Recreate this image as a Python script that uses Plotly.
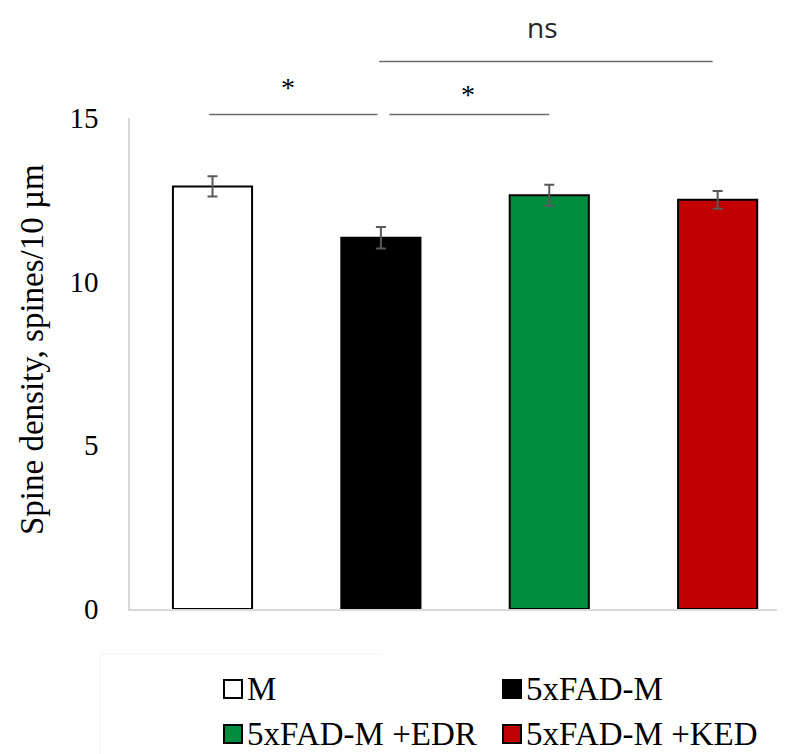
import plotly.graph_objects as go

# ---------------- data ----------------
categories = ["M", "5xFAD-M", "5xFAD-M +EDR", "5xFAD-M +KED"]
means = [12.91, 11.34, 12.64, 12.50]
sems = [0.31, 0.33, 0.32, 0.27]
colors = ["#FFFFFF", "#000000", "#008C3E", "#C00000"]
y_ticks = [0, 5, 10, 15]
sig_labels = ["*", "*", "ns"]
sig_from = [-0.02, 1.05, 0.99]
sig_to = [0.98, 2.00, 2.97]
sig_label_x = [0.45, 1.52, 1.96]

# ---------------- layout geometry ----------------
# the page body has an 8px margin, so the figure is drawn 8px smaller and
# all positions below are given in window pixels, then shifted by BODY.
BODY = 8
WIN_W, WIN_H = 785, 754
W, H = WIN_W - BODY, WIN_H - BODY
PLOT_L, PLOT_T, PLOT_B, PLOT_R = 130, 118, 609, 785   # window pixels
ML = PLOT_L - BODY
MT = PLOT_T - BODY
MB = H - (PLOT_B - BODY)
MR = W - (PLOT_R - BODY)
PW, PH = W - ML - MR, H - MT - MB
X_RANGE = [-0.49, 3.40]
Y_RANGE = [0, 15]


def data_x_to_paper(x):
    return (x - X_RANGE[0]) / (X_RANGE[1] - X_RANGE[0])


def px_x(p):
    return (p - PLOT_L) / PW


def px_y(p):
    return (PLOT_B - p) / PH


SERIF = "Liberation Serif, Times New Roman, serif"

fig = go.Figure()
fig.add_trace(go.Bar(
    x=categories,
    y=means,
    width=0.47,
    marker=dict(color=colors, line=dict(color="#000000", width=2)),
    error_y=dict(type="data", array=sems, visible=True,
                 color="#595959", thickness=2, width=5),
    showlegend=False,
))

shapes = []
annotations = []

# significance bars
sig_line_y = [114.5, 114.5, 61.5]
sig_text_y = [88, 94.5, 27]
sig_font = [dict(family=SERIF, size=28, color="#000000"),
            dict(family=SERIF, size=28, color="#000000"),
            dict(family="Open Sans, Noto Sans, sans-serif", size=28, color="#262626")]
for i in range(len(sig_labels)):
    shapes.append(dict(type="line", xref="paper", yref="paper",
                       x0=data_x_to_paper(sig_from[i]), x1=data_x_to_paper(sig_to[i]),
                       y0=px_y(sig_line_y[i]), y1=px_y(sig_line_y[i]),
                       line=dict(color="#6E6E6E", width=1.6)))
    annotations.append(dict(text=sig_labels[i], xref="paper", yref="paper",
                            x=data_x_to_paper(sig_label_x[i]), y=px_y(sig_text_y[i]),
                            xanchor="center", yanchor="middle", showarrow=False,
                            font=sig_font[i]))

# y-axis title
annotations.append(dict(text="Spine density, spines/10 µm", xref="paper", yref="paper",
                        x=px_x(32), y=px_y(350), xanchor="center", yanchor="middle",
                        textangle=-90, showarrow=False,
                        font=dict(family=SERIF, size=33, color="#000000")))

# faint legend frame
shapes.append(dict(type="line", xref="paper", yref="paper",
                   x0=px_x(100), x1=px_x(382), y0=px_y(654), y1=px_y(654),
                   line=dict(color="#F4F4F4", width=1)))
shapes.append(dict(type="line", xref="paper", yref="paper",
                   x0=px_x(100), x1=px_x(100), y0=px_y(654), y1=px_y(754),
                   line=dict(color="#F4F4F4", width=1)))

# manual legend (2 columns x 2 rows)
leg_sq_left = [224, 503, 224, 503]
leg_row_y = [689, 689, 734, 734]
SQ = 18
for i, name in enumerate(categories):
    x0 = leg_sq_left[i]
    yc = leg_row_y[i]
    shapes.append(dict(type="rect", xref="paper", yref="paper",
                       x0=px_x(x0), x1=px_x(x0 + SQ),
                       y0=px_y(yc + SQ / 2), y1=px_y(yc - SQ / 2),
                       fillcolor=colors[i], line=dict(color="#000000", width=2)))
    annotations.append(dict(text=name, xref="paper", yref="paper",
                            x=px_x(x0 + SQ + 3), y=px_y(yc),
                            xanchor="left", yanchor="middle", showarrow=False,
                            font=dict(family=SERIF, size=33, color="#000000")))

fig.update_layout(
    width=W, height=H,
    margin=dict(l=ML, r=MR, t=MT, b=MB, pad=0),
    plot_bgcolor="#FFFFFF", paper_bgcolor="#FFFFFF",
    xaxis=dict(range=X_RANGE, showticklabels=False, showgrid=False, zeroline=False,
               showline=True, linecolor="#D9D9D9", linewidth=1.5, ticks=""),
    yaxis=dict(range=Y_RANGE, tickvals=y_ticks, showgrid=False, zeroline=False,
               showline=True, linecolor="#D9D9D9", linewidth=1.5, ticks="",
               ticklabelstandoff=24,
               tickfont=dict(family=SERIF, size=29, color="#000000")),
    shapes=shapes,
    annotations=annotations,
    bargap=0.5,
)

fig.write_html("out.html")
